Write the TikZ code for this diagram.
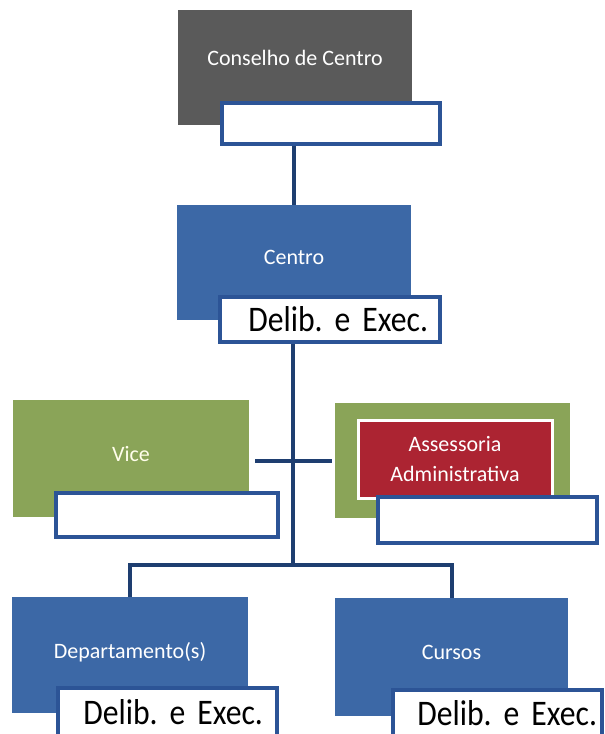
\documentclass[tikz,border=0pt]{standalone}
\usepackage{fontspec}
\setmainfont{Carlito}
\newfontfamily\rotulofonte{Carlito}[FakeStretch=0.88]
\newcommand\rotulotexto{\rotulofonte\fontsize{36}{36}\selectfont\spaceskip 5pt\relax}
\frenchspacing
\definecolor{cinza}{RGB}{90,90,90}
\definecolor{azul}{RGB}{60,104,166}
\definecolor{verde}{RGB}{138,164,88}
\definecolor{vermelho}{RGB}{172,36,50}
\definecolor{borda}{RGB}{44,84,150}
\definecolor{linha}{RGB}{30,62,112}

\begin{document}
\begin{tikzpicture}[x=1pt,y=1pt,
  unidade/.style={rectangle, inner sep=0pt, text=white, text depth=10pt,
    font=\fontsize{22}{30}\selectfont, align=center},
  rotulo/.style={rectangle, draw=borda, line width=4pt, fill=white, inner sep=0pt,
    font=\rotulotexto, align=right},
  ligacao/.style={draw=linha, line width=4pt}]
\useasboundingbox[fill=white] (0,0) rectangle (605,-734);
% conselho
\node[unidade, fill=cinza, minimum width=234pt, minimum height=115pt, text depth=20pt] (conselho) at (295,-67.5) {Conselho de Centro};
\node[rotulo, minimum width=218pt, minimum height=41pt] (conselhoRot) at (331,-123.5) {};
% centro
\node[unidade, fill=azul, minimum width=234pt, minimum height=115pt] (centro) at (294,-262.5) {Centro};
\node[rotulo, minimum width=220pt, minimum height=45pt, text width=196pt] (centroRot) at (330,-319.5) {Delib. e Exec.};
% vice e assessoria
\node[unidade, fill=verde, minimum width=236pt, minimum height=117pt, text=white!92!yellow] (vice) at (131,-458.5) {Vice};
\node[rotulo, minimum width=222pt, minimum height=44pt] (viceRot) at (167,-515) {};
\node[unidade, fill=verde, minimum width=235pt, minimum height=115pt] (assessoriaFundo) at (452.5,-460.5) {};
\node[unidade, fill=vermelho, draw=white, line width=3pt, minimum width=194pt, minimum height=78pt, text depth=0pt] (assessoria) at (455,-459) {Assessoria\\Administrativa};
\node[rotulo, minimum width=219pt, minimum height=46pt] (assessoriaRot) at (487.5,-520) {};
% departamentos e cursos
\node[unidade, fill=azul, minimum width=236pt, minimum height=116pt] (depto) at (130,-655) {Departamento(s)};
\node[rotulo, minimum width=219pt, minimum height=48pt, text width=191pt] (deptoRot) at (167.5,-712) {Delib. e Exec.};
\node[unidade, fill=azul, minimum width=233pt, minimum height=118pt] (cursos) at (451.5,-657) {Cursos};
\node[rotulo, minimum width=209pt, minimum height=46pt, text width=199pt] (cursosRot) at (497.5,-713) {Delib. e Exec.};
% ligacoes
\coordinate (divisao) at (293,-565);
\draw[ligacao] (centro.north |- conselhoRot.south) -- (centro.north);
\draw[ligacao] (divisao |- centroRot.south) -- (divisao);
\draw[ligacao] ([xshift=6pt]vice.east |- assessoriaFundo.west) -- ([xshift=-3pt]assessoriaFundo.west);
\draw[ligacao] (depto.north) |- (divisao) -| (cursos.north);
\end{tikzpicture}
\end{document}
